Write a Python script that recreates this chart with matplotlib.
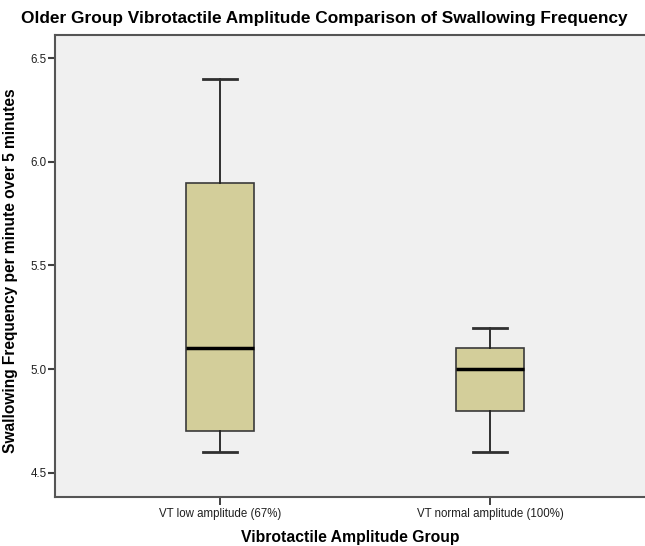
import matplotlib
matplotlib.use('Agg')
import matplotlib.pyplot as plt

plt.rcParams['font.family'] = ['Liberation Sans', 'DejaVu Sans']

groups = ['VT low amplitude (67%)', 'VT normal amplitude (100%)']
whisker_low = [4.6, 4.6]
q1 = [4.7, 4.8]
median = [5.1, 5.0]
q3 = [5.9, 5.1]
whisker_high = [6.4, 5.2]
y_ticks = [4.5, 5.0, 5.5, 6.0, 6.5]

stats = []
for i in range(len(groups)):
    stats.append({'label': groups[i], 'whislo': whisker_low[i], 'q1': q1[i],
                  'med': median[i], 'q3': q3[i], 'whishi': whisker_high[i], 'fliers': []})

fig = plt.figure(figsize=(6.45, 5.46), dpi=100)
ax = fig.add_axes([0.0853, 0.0897, 0.9147, 0.8462])
ax.set_facecolor('#f0f0f0')

ax.bxp(stats, positions=[1, 2], widths=0.25, patch_artist=True, showfliers=False,
       boxprops=dict(facecolor='#d3ce9a', edgecolor='#3a3a3a', linewidth=1.2),
       medianprops=dict(color='black', linewidth=2.5),
       whiskerprops=dict(color='#202020', linewidth=1.3),
       capprops=dict(color='#303030', linewidth=2.0))

ax.set_xlim(0.389, 2.574)
ax.set_ylim(4.384, 6.611)
ax.set_yticks(y_ticks)
ax.set_yticklabels([f'{v:.1f}' for v in y_ticks], fontsize=8.3, color='#202020')
ax.set_xticks([1, 2])
ax.set_xticklabels(groups, fontsize=8.3, color='#202020')
ax.tick_params(axis='y', length=5, width=1.5, color='#404040', pad=1)
ax.tick_params(axis='x', length=6, width=1.2, color='#202020', pad=2)

for side in ['left', 'bottom', 'top']:
    ax.spines[side].set_color('#555555')
    ax.spines[side].set_linewidth(1.5)
ax.spines['right'].set_visible(False)

ax.set_xlabel('Vibrotactile Amplitude Group', fontsize=11.3, fontweight='bold', labelpad=7)
ax.set_ylabel('Swallowing Frequency per minute over 5 minutes', fontsize=11.2,
              fontweight='bold', labelpad=5)
ax.yaxis.set_label_coords(-0.062, 0.49)
fig.text(0.503, 0.966, 'Older Group Vibrotactile Amplitude Comparison of Swallowing Frequency',
         ha='center', va='center', fontsize=12.4, fontweight='bold')

fig.savefig('out.png', dpi=100)
